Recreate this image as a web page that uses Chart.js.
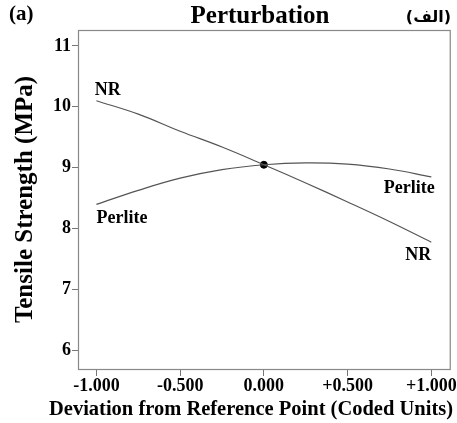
<!DOCTYPE html>
<html>
<head>
<meta charset="utf-8">
<script src="https://cdn.jsdelivr.net/npm/chart.js@4/dist/chart.umd.min.js"></script>
<style>
  html, body { margin: 0; padding: 0; background: #fff; }
  #wrap { width: 457px; height: 423px; }
</style>
</head>
<body>
<div id="wrap"><canvas id="myChart" width="457" height="423"></canvas></div>
<script>
// coded deviation from reference point
let xs = [-1, -0.75, -0.5, -0.25, 0, 0.25, 0.5, 0.75, 1]
let nrVals = [10.10, 9.88, 9.60, 9.34, 9.05, 8.75, 8.44, 8.12, 7.78]
let perliteVals = [8.40, 8.63, 8.83, 8.97, 9.05, 9.08, 9.06, 8.98, 8.85]
let refPoint = [{x: 0, y: 9.05}]
let xTicks = [-1, -0.5, 0, 0.5, 1]
let xTickLabels = ['-1.000', '-0.500', '0.000', '+0.500', '+1.000']
let yTicks = [6, 7, 8, 9, 10, 11]

const serif = '"Liberation Serif", "DejaVu Serif", serif'
const toPts = (vals) => xs.map((x, i) => ({x: x, y: vals[i]}))

const decor = {
    id: 'decor',
    afterDraw(chart) {
        const c = chart.ctx
        const a = chart.chartArea
        const sx = chart.scales.x, sy = chart.scales.y
        c.save()
        c.strokeStyle = '#888'
        c.lineWidth = 1.2
        c.strokeRect(a.left + 0.5, a.top + 0.5, a.right - a.left, a.bottom - a.top)
        c.fillStyle = '#000'
        c.font = 'bold 25px ' + serif
        c.textAlign = 'center'
        c.textBaseline = 'middle'
        c.fillText('Perturbation', 260, 17)
        // x axis title, drawn here so it can sit left of the plot centre like the original
        c.font = 'bold 20.5px ' + serif
        c.fillText('Deviation from Reference Point (Coded Units)', 251, 410)
        c.font = 'bold 21px ' + serif
        c.textAlign = 'left'
        c.fillText('(a)', 9, 15)
        c.font = 'bold 16px "DejaVu Sans", sans-serif'
        c.textAlign = 'right'
        c.fillText('(الف)', 451, 18)
        c.font = 'bold 18px ' + serif
        c.textAlign = 'left'
        c.fillText('NR', sx.getPixelForValue(-1.01), sy.getPixelForValue(10.27))
        c.fillText('Perlite', sx.getPixelForValue(-1.0), sy.getPixelForValue(8.17))
        c.textAlign = 'right'
        c.fillText('Perlite', sx.getPixelForValue(1.02), sy.getPixelForValue(8.67))
        c.fillText('NR', sx.getPixelForValue(1.0), sy.getPixelForValue(7.57))
        c.restore()
    }
}

const ctx = document.getElementById('myChart').getContext('2d')
const myChart = new Chart(ctx, {
    type: 'scatter',
    data: {
        datasets: [{
            label: 'NR',
            data: toPts(nrVals),
            showLine: true,
            borderColor: '#555',
            borderWidth: 1.2,
            pointRadius: 0,
            tension: 0.4
        }, {
            label: 'Perlite',
            data: toPts(perliteVals),
            showLine: true,
            borderColor: '#555',
            borderWidth: 1.2,
            pointRadius: 0,
            tension: 0.4
        }, {
            label: 'Reference',
            data: refPoint,
            pointRadius: 3.5,
            backgroundColor: '#000',
            borderColor: '#000'
        }]
    },
    options: {
        responsive: false,
        animation: false,
        layout: { padding: { top: 30, right: 6, left: 0, bottom: 0 } },
        plugins: { legend: { display: false }, tooltip: { enabled: false } },
        scales: {
            x: {
                type: 'linear',
                min: -1.11,
                max: 1.11,
                afterBuildTicks: (s) => { s.ticks = xTicks.map(v => ({value: v})) },
                afterFit: (s) => { s.height = 54 },
                grid: { drawOnChartArea: false, tickLength: 7, color: '#777' },
                border: { display: false },
                ticks: {
                    color: '#000',
                    padding: 0,
                    maxRotation: 0,
                    autoSkip: false,
                    font: { family: serif, weight: 'bold', size: 18 },
                    callback: (v) => xTickLabels[xTicks.indexOf(v)]
                },
                title: { display: false }
            },
            y: {
                min: 5.7,
                max: 11.26,
                afterBuildTicks: (s) => { s.ticks = yTicks.map(v => ({value: v})) },
                afterFit: (s) => { s.width = 78 },
                grid: { drawOnChartArea: false, tickLength: 6, color: '#777' },
                border: { display: false },
                ticks: {
                    color: '#000',
                    padding: 1,
                    font: { family: serif, weight: 'bold', size: 18 }
                },
                title: {
                    display: true,
                    text: 'Tensile Strength (MPa)',
                    color: '#000',
                    padding: { top: 11, bottom: 8 },
                    font: { family: serif, weight: 'bold', size: 25 }
                }
            }
        }
    },
    plugins: [decor]
})
</script>
</body>
</html>
